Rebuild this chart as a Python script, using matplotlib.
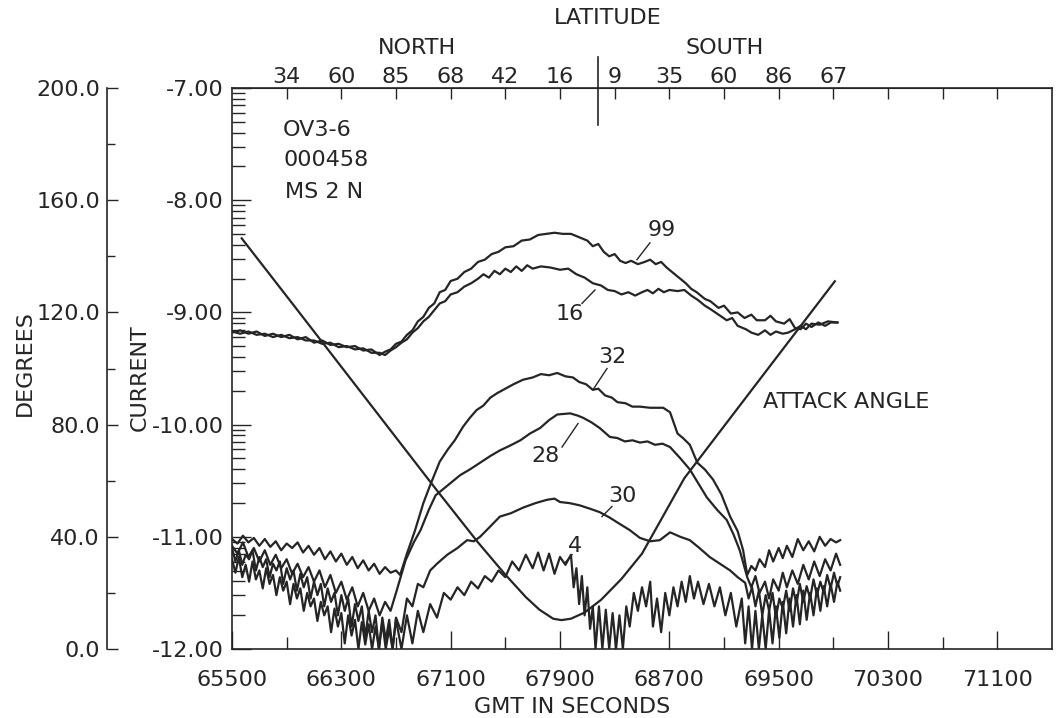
import numpy as np
import matplotlib
matplotlib.use("Agg")
import matplotlib.pyplot as plt

plt.rcParams["font.family"] = ["DejaVu Sans"]
plt.rcParams["axes.unicode_minus"] = False
INK = "#252525"

# --- data: (GMT seconds, current) -------------------------------------------
trace_99 = [(65500, -9.18), (65560, -9.16), (65620, -9.19), (65680, -9.17), (65740, -9.21),
            (65800, -9.19), (65860, -9.22), (65920, -9.20), (65980, -9.24), (66040, -9.22),
            (66100, -9.27), (66160, -9.25), (66220, -9.29), (66280, -9.28), (66340, -9.31),
            (66400, -9.30), (66460, -9.34), (66520, -9.33), (66580, -9.38), (66620, -9.35),
            (66660, -9.33), (66700, -9.28), (66740, -9.26), (66780, -9.20), (66820, -9.16),
            (66860, -9.08), (66900, -9.04), (66940, -8.96), (66980, -8.92), (67020, -8.82),
            (67060, -8.80), (67100, -8.72), (67150, -8.70), (67200, -8.64), (67250, -8.61),
            (67300, -8.55), (67350, -8.53), (67400, -8.48), (67450, -8.46), (67500, -8.42),
            (67560, -8.41), (67620, -8.36), (67680, -8.35), (67740, -8.31), (67800, -8.30),
            (67860, -8.29), (67920, -8.30), (67980, -8.30), (68040, -8.33), (68100, -8.36),
            (68140, -8.41), (68180, -8.39), (68220, -8.46), (68260, -8.50), (68300, -8.48),
            (68340, -8.54), (68380, -8.56), (68420, -8.54), (68470, -8.57), (68520, -8.55),
            (68560, -8.53), (68600, -8.57), (68640, -8.55), (68680, -8.60), (68720, -8.64),
            (68770, -8.69), (68820, -8.74), (68860, -8.79), (68900, -8.82), (68960, -8.88),
            (69000, -8.90), (69060, -8.96), (69100, -8.94), (69150, -9.01), (69200, -9.00),
            (69250, -9.05), (69300, -9.02), (69340, -9.07), (69400, -9.07), (69440, -9.03),
            (69480, -9.08), (69540, -9.10), (69580, -9.06), (69620, -9.14), (69660, -9.15),
            (69700, -9.10), (69740, -9.13), (69790, -9.09), (69840, -9.12), (69880, -9.09),
            (69930, -9.09)]

trace_16 = [(65500, -9.17), (65560, -9.19), (65620, -9.17), (65680, -9.20), (65740, -9.19),
            (65800, -9.22), (65860, -9.20), (65920, -9.23), (65980, -9.22), (66040, -9.25),
            (66100, -9.25), (66160, -9.28), (66220, -9.27), (66280, -9.31), (66340, -9.30),
            (66400, -9.33), (66460, -9.32), (66520, -9.36), (66580, -9.36), (66620, -9.38),
            (66660, -9.34), (66700, -9.31), (66740, -9.27), (66780, -9.24), (66820, -9.18),
            (66860, -9.14), (66900, -9.08), (66940, -9.04), (66980, -8.98), (67020, -8.92),
            (67060, -8.90), (67100, -8.84), (67150, -8.82), (67200, -8.77), (67250, -8.74),
            (67300, -8.70), (67340, -8.66), (67380, -8.69), (67420, -8.63), (67460, -8.66),
            (67500, -8.61), (67540, -8.64), (67580, -8.59), (67620, -8.63), (67660, -8.58),
            (67700, -8.61), (67760, -8.59), (67830, -8.60), (67900, -8.62), (67960, -8.61),
            (68020, -8.66), (68080, -8.69), (68140, -8.74), (68200, -8.76), (68250, -8.80),
            (68300, -8.81), (68350, -8.84), (68400, -8.82), (68450, -8.85), (68500, -8.82),
            (68540, -8.80), (68580, -8.83), (68620, -8.79), (68660, -8.82), (68700, -8.80),
            (68760, -8.81), (68810, -8.80), (68860, -8.85), (68910, -8.89), (68960, -8.94),
            (69000, -8.97), (69060, -9.02), (69120, -9.07), (69160, -9.05), (69200, -9.12),
            (69260, -9.15), (69300, -9.18), (69350, -9.20), (69400, -9.16), (69440, -9.20),
            (69480, -9.17), (69530, -9.19), (69570, -9.18), (69620, -9.15), (69660, -9.12),
            (69700, -9.15), (69740, -9.10), (69800, -9.11), (69860, -9.08), (69930, -9.09)]

trace_32 = [(65500, -11.02), (65540, -11.06), (65580, -10.99), (65620, -11.05), (65660, -11.01),
            (65700, -11.08), (65740, -11.02), (65780, -11.09), (65820, -11.04), (65860, -11.12),
            (65900, -11.06), (65940, -11.10), (65980, -11.05), (66020, -11.14), (66060, -11.08),
            (66100, -11.16), (66140, -11.10), (66180, -11.20), (66220, -11.13), (66260, -11.22),
            (66300, -11.15), (66340, -11.25), (66380, -11.18), (66420, -11.28), (66460, -11.21),
            (66500, -11.30), (66540, -11.24), (66580, -11.33), (66620, -11.27), (66660, -11.32),
            (66700, -11.30), (66730, -11.34), (66780, -11.15), (66840, -10.94), (66900, -10.70),
            (66950, -10.54), (67020, -10.33), (67080, -10.22), (67130, -10.14), (67190, -10.02),
            (67240, -9.94), (67290, -9.87), (67340, -9.83), (67390, -9.76), (67440, -9.72),
            (67500, -9.68), (67560, -9.64), (67630, -9.60), (67700, -9.58), (67760, -9.55),
            (67820, -9.56), (67880, -9.54), (67940, -9.57), (67995, -9.58), (68040, -9.62),
            (68090, -9.64), (68140, -9.69), (68180, -9.68), (68230, -9.74), (68280, -9.76),
            (68320, -9.80), (68380, -9.81), (68430, -9.84), (68485, -9.84), (68560, -9.85),
            (68655, -9.85), (68705, -9.89), (68760, -10.08), (68800, -10.12), (68850, -10.18),
            (68905, -10.34), (68960, -10.40), (69020, -10.49), (69080, -10.62), (69145, -10.82),
            (69200, -10.95), (69240, -11.12), (69270, -11.34), (69300, -11.26), (69330, -11.30),
            (69360, -11.20), (69400, -11.27), (69430, -11.12), (69460, -11.22), (69500, -11.10),
            (69530, -11.19), (69560, -11.08), (69600, -11.18), (69640, -11.02), (69680, -11.12),
            (69720, -11.04), (69760, -11.13), (69800, -11.00), (69840, -11.08), (69880, -11.02),
            (69920, -11.05), (69950, -11.03)]

trace_28 = [(65500, -11.08), (65540, -11.15), (65580, -11.05), (65620, -11.18), (65660, -11.10),
            (65700, -11.22), (65740, -11.12), (65780, -11.25), (65820, -11.16), (65860, -11.28),
            (65900, -11.20), (65940, -11.33), (65980, -11.24), (66020, -11.36), (66060, -11.27),
            (66100, -11.40), (66140, -11.30), (66180, -11.45), (66220, -11.34), (66260, -11.50),
            (66300, -11.40), (66340, -11.56), (66380, -11.45), (66420, -11.62), (66460, -11.50),
            (66500, -11.66), (66540, -11.55), (66580, -11.70), (66620, -11.58), (66660, -11.66),
            (66700, -11.50), (66770, -11.21), (66830, -11.05), (66880, -10.94), (66940, -10.76),
            (66990, -10.63), (67040, -10.58), (67100, -10.52), (67170, -10.45), (67240, -10.40),
            (67315, -10.34), (67390, -10.28), (67460, -10.23), (67530, -10.19), (67610, -10.14),
            (67680, -10.08), (67755, -10.03), (67820, -9.96), (67880, -9.91), (67975, -9.90),
            (68030, -9.92), (68070, -9.94), (68130, -9.98), (68190, -10.03), (68265, -10.11),
            (68320, -10.12), (68375, -10.15), (68430, -10.14), (68485, -10.16), (68540, -10.15),
            (68595, -10.18), (68650, -10.17), (68705, -10.20), (68780, -10.30), (68850, -10.40),
            (68910, -10.52), (68975, -10.65), (69050, -10.76), (69120, -10.85), (69170, -10.98),
            (69215, -11.12), (69270, -11.36), (69300, -11.45), (69330, -11.35), (69360, -11.50),
            (69400, -11.40), (69430, -11.55), (69460, -11.38), (69500, -11.48), (69530, -11.32),
            (69560, -11.45), (69600, -11.30), (69640, -11.42), (69680, -11.25), (69720, -11.38),
            (69760, -11.22), (69800, -11.35), (69840, -11.20), (69880, -11.30), (69920, -11.15),
            (69950, -11.25)]

trace_30 = [(65500, -11.10), (65525, -11.22), (65550, -11.12), (65575, -11.25), (65600, -11.16),
            (65625, -11.20), (65650, -11.12), (65675, -11.30), (65700, -11.18), (65725, -11.27),
            (65750, -11.20), (65775, -11.36), (65800, -11.24), (65825, -11.30), (65850, -11.22),
            (65875, -11.42), (65900, -11.28), (65925, -11.38), (65950, -11.30), (65975, -11.48),
            (66000, -11.33), (66025, -11.45), (66050, -11.36), (66075, -11.55), (66100, -11.40),
            (66125, -11.52), (66150, -11.42), (66175, -11.62), (66200, -11.46), (66225, -11.58),
            (66250, -11.50), (66275, -11.70), (66300, -11.52), (66325, -11.66), (66350, -11.55),
            (66375, -11.80), (66400, -11.60), (66425, -11.75), (66450, -11.62), (66475, -11.90),
            (66500, -11.66), (66525, -11.85), (66550, -11.70), (66575, -12.00), (66600, -11.72),
            (66625, -11.92), (66650, -11.74), (66675, -12.00), (66700, -11.72), (66740, -11.85),
            (66780, -11.55), (66820, -11.62), (66860, -11.42), (66900, -11.45), (66950, -11.30),
            (67000, -11.24), (67075, -11.16), (67150, -11.10), (67220, -11.03), (67270, -11.04),
            (67315, -11.00), (67380, -10.92), (67460, -10.82), (67540, -10.79), (67630, -10.74),
            (67720, -10.70), (67805, -10.67), (67860, -10.66), (67900, -10.69), (67970, -10.70),
            (68045, -10.72), (68120, -10.75), (68190, -10.78), (68265, -10.83), (68330, -10.88),
            (68410, -10.94), (68485, -11.01), (68560, -11.04), (68630, -11.03), (68705, -10.96),
            (68780, -11.00), (68850, -11.03), (68920, -11.10), (68995, -11.18), (69070, -11.24),
            (69145, -11.30), (69200, -11.36), (69255, -11.41), (69280, -11.55), (69305, -11.45),
            (69330, -11.62), (69355, -11.48), (69380, -11.70), (69405, -11.52), (69430, -11.66),
            (69455, -11.50), (69480, -11.72), (69505, -11.55), (69530, -11.64), (69555, -11.48),
            (69580, -11.66), (69605, -11.46), (69630, -11.60), (69655, -11.42), (69680, -11.58),
            (69705, -11.44), (69730, -11.55), (69755, -11.38), (69780, -11.52), (69805, -11.40),
            (69830, -11.50), (69855, -11.34), (69880, -11.46), (69905, -11.32), (69930, -11.44),
            (69950, -11.36)]

trace_4 = [(65500, -11.20), (65525, -11.32), (65550, -11.18), (65575, -11.36), (65600, -11.25),
           (65625, -11.40), (65650, -11.22), (65675, -11.38), (65700, -11.30), (65725, -11.46),
           (65750, -11.28), (65775, -11.42), (65800, -11.34), (65825, -11.52), (65850, -11.36),
           (65875, -11.48), (65900, -11.40), (65925, -11.60), (65950, -11.42), (65975, -11.55),
           (66000, -11.46), (66025, -11.66), (66050, -11.50), (66075, -11.62), (66100, -11.55),
           (66125, -11.75), (66150, -11.58), (66175, -11.70), (66200, -11.62), (66225, -11.85),
           (66250, -11.64), (66275, -11.80), (66300, -11.68), (66325, -11.95), (66350, -11.70),
           (66375, -11.88), (66400, -11.74), (66425, -12.00), (66450, -11.76), (66475, -11.96),
           (66500, -11.78), (66525, -12.00), (66550, -11.80), (66575, -12.00), (66600, -11.76),
           (66625, -12.00), (66650, -11.82), (66675, -12.00), (66700, -11.74), (66740, -12.00),
           (66780, -11.70), (66820, -11.95), (66860, -11.66), (66900, -11.85), (66950, -11.60),
           (67000, -11.72), (67050, -11.50), (67100, -11.56), (67150, -11.45), (67200, -11.52),
           (67250, -11.40), (67300, -11.46), (67350, -11.35), (67400, -11.40), (67450, -11.30),
           (67500, -11.36), (67550, -11.22), (67600, -11.30), (67650, -11.16), (67700, -11.28),
           (67740, -11.14), (67780, -11.30), (67820, -11.15), (67860, -11.33), (67900, -11.18),
           (67940, -11.25), (67980, -11.16), (68000, -11.45), (68020, -11.28), (68040, -11.60),
           (68060, -11.35), (68080, -11.70), (68100, -11.45), (68120, -11.82), (68140, -11.62),
           (68160, -12.00), (68185, -11.62), (68210, -12.00), (68235, -11.65), (68260, -12.00),
           (68285, -11.68), (68310, -12.00), (68335, -11.70), (68360, -12.00), (68385, -11.62),
           (68410, -11.80), (68440, -11.50), (68470, -11.66), (68500, -11.45), (68530, -11.62),
           (68560, -11.40), (68580, -11.80), (68610, -11.55), (68640, -11.85), (68670, -11.50),
           (68700, -11.70), (68730, -11.45), (68760, -11.62), (68790, -11.40), (68820, -11.58),
           (68850, -11.35), (68880, -11.55), (68910, -11.40), (68950, -11.60), (68990, -11.42),
           (69030, -11.62), (69070, -11.45), (69110, -11.70), (69150, -11.50), (69190, -11.80),
           (69230, -11.55), (69255, -11.95), (69280, -11.62), (69305, -12.00), (69330, -11.66),
           (69355, -12.00), (69380, -11.70), (69405, -12.00), (69430, -11.65), (69455, -11.95),
           (69480, -11.62), (69505, -11.90), (69530, -11.58), (69555, -11.86), (69580, -11.55),
           (69605, -11.80), (69630, -11.52), (69655, -11.78), (69680, -11.48), (69705, -11.74),
           (69730, -11.50), (69755, -11.70), (69780, -11.46), (69805, -11.66), (69830, -11.44),
           (69855, -11.62), (69880, -11.42), (69905, -11.58), (69930, -11.40), (69950, -11.48)]

# attack angle, degrees
attack_angle = [(65571, 146.4), (66000, 119.5), (66500, 88.0), (67000, 56.5), (67300, 38.0),
                (67500, 26.5), (67650, 18.5), (67750, 14.0), (67850, 10.8), (67910, 10.3),
                (67980, 10.8), (68080, 13.0), (68200, 17.5), (68350, 25.0), (68500, 34.0),
                (68810, 60.9), (69200, 85.8), (69600, 111.3), (69911, 131.1)]

# curve labels: text, text position, leader start, leader end
curve_labels = [("99", (68646, -8.27), (68558, -8.38), (68463, -8.53)),
                ("16", (67973, -9.01), (68061, -8.92), (68156, -8.80)),
                ("32", (68280, -9.40), (68244, -9.50), (68141, -9.69)),
                ("28", (67797, -10.28), (67915, -10.20), (68032, -9.99)),
                ("30", (68354, -10.64), (68280, -10.73), (68207, -10.82)),
                ("4", (68010, -11.08), (67988, -11.16), (67937, -11.23))]

gmt_ticks = [65500, 66300, 67100, 67900, 68700, 69500, 70300, 71100]
gmt_minor = [65900, 66700, 67500, 68300, 69100, 69900, 70700]
current_ticks = [-12, -11, -10, -9, -8, -7]
degree_ticks = [0, 40, 80, 120, 160, 200]
lat_ticks = [65900, 66300, 66700, 67100, 67500, 67900, 68300, 68700, 69100, 69500,
             69900, 70300, 70700, 71100]
lat_labels = ["34", "60", "85", "68", "42", "16", "9", "35", "60", "86", "67", "", "", ""]
equator_gmt = 68178

# --- figure ------------------------------------------------------------------
W, H = 1059, 718
fig = plt.figure(figsize=(W / 100, H / 100), dpi=100)
ax = fig.add_axes([232 / W, (H - 649) / H, (1052 - 232) / W, (649 - 88) / H])
ax.set_xlim(65500, 71500)
ax.set_ylim(-12, -7)

for tr in [trace_99, trace_16, trace_32, trace_28, trace_30, trace_4]:
    t, c = zip(*tr)
    ax.plot(t, c, color=INK, lw=1.6)

for txt, (tx, ty), (x1, y1), (x2, y2) in curve_labels:
    ax.text(tx, ty, txt, fontsize=16, ha="center", va="center", color=INK)
    ax.plot([x1, x2], [y1, y2], color=INK, lw=1.0)

ax.text(65873, -7.37, "OV3-6", fontsize=16, va="center", color=INK)
ax.text(65880, -7.64, "000458", fontsize=16, va="center", color=INK)
ax.text(65890, -7.93, "MS 2 N", fontsize=16, va="center", color=INK)
ax.text(69385, -9.80, "ATTACK ANGLE", fontsize=16, va="center", color=INK)

# equator crossing marker above/below the top frame
ax.plot([equator_gmt, equator_gmt], [-6.72, -7.33], color=INK, lw=1.2, clip_on=False)

for s in ax.spines.values():
    s.set_color(INK)
    s.set_linewidth(1.2)

ax.set_xticks(gmt_ticks, [str(v) for v in gmt_ticks])
ax.set_xticks(gmt_minor, minor=True)
ax.tick_params(axis="x", which="major", direction="in", length=13, width=1,
               labelsize=16, pad=15, colors=INK, top=False)
ax.tick_params(axis="x", which="minor", direction="in", length=9, width=1,
               colors=INK, top=False)

# log-like minor ticks on the current axis (as on the original plotter frame)
cur_minor = [-n - np.log10(10 / k) for n in range(7, 12) for k in range(2, 10)]
ax.set_yticks(current_ticks, ["%.2f" % v for v in current_ticks])
ax.set_yticks(cur_minor, minor=True)
ax.tick_params(axis="y", which="major", direction="in", length=14, width=1,
               labelsize=16, pad=6, colors=INK, left=True, right=True)
ax.tick_params(axis="y", which="minor", direction="in", length=9, width=1,
               colors=INK, left=True, right=True)

# latitude scale along the top
sec = ax.secondary_xaxis("top")
sec.set_xticks(lat_ticks, lat_labels)
sec.tick_params(direction="in", length=8, width=1, labelsize=16, pad=1, colors=INK)
sec.spines["top"].set_color(INK)

# degrees axis, offset to the left
ax2 = ax.twinx()
ax2.set_ylim(0, 200)
t, d = zip(*attack_angle)
ax2.plot(t, d, color=INK, lw=1.6)
for k in ["right", "top", "bottom"]:
    ax2.spines[k].set_visible(False)
ax2.spines["left"].set_visible(True)
ax2.spines["left"].set_position(("outward", 90))
ax2.spines["left"].set_color(INK)
ax2.spines["left"].set_linewidth(1.2)
ax2.yaxis.set_ticks_position("left")
ax2.set_yticks(degree_ticks, ["%.1f" % v for v in degree_ticks])
ax2.set_yticks([20, 60, 100, 140, 180], minor=True)
ax2.tick_params(axis="y", which="major", direction="in", length=8, width=1,
                labelsize=16, pad=5, colors=INK)
ax2.tick_params(axis="y", which="minor", direction="in", length=6, width=1, colors=INK)

fig.text(25 / W, 1 - 363 / H, "DEGREES", rotation=90, fontsize=16, ha="center", va="center", color=INK)
fig.text(140 / W, 1 - 378 / H, "CURRENT", rotation=90, fontsize=16, ha="center", va="center", color=INK)
fig.text(572 / W, 1 - 707 / H, "GMT IN SECONDS", fontsize=16, ha="center", va="center", color=INK)
fig.text(608 / W, 1 - 18 / H, "LATITUDE", fontsize=16, ha="center", va="center", color=INK)
fig.text(417 / W, 1 - 48 / H, "NORTH", fontsize=16, ha="center", va="center", color=INK)
fig.text(725 / W, 1 - 48 / H, "SOUTH", fontsize=16, ha="center", va="center", color=INK)

fig.savefig("out.png", dpi=100)
